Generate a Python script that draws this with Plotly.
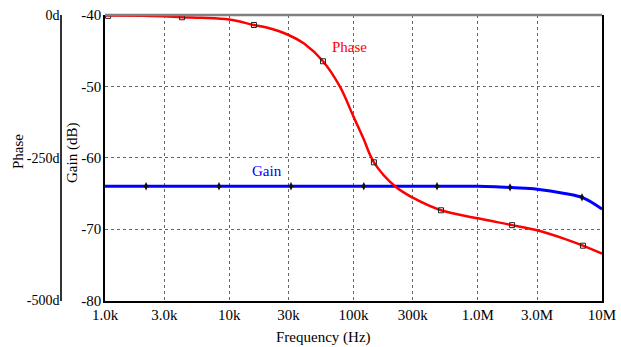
import plotly.graph_objects as go

# ---- data ----
freq_gain = [1e3, 3e3, 1e4, 3e4, 1e5, 3e5, 1e6, 1.5e6, 2e6, 3e6, 5e6, 7e6, 1e7]
gain_db = [-64.0, -64.0, -64.0, -64.0, -64.0, -64.0, -64.0, -64.1, -64.2, -64.4, -65.0, -65.6, -67.2]

freq_phase = [1e3, 2e3, 3e3, 4.17e3, 6e3, 1e4, 1.58e4, 2e4, 3e4, 4e4, 5.68e4, 7.8e4, 1e5,
              1.2e5, 1.46e5, 2.16e5, 3e5, 5.06e5, 1e6, 1.89e6, 3e6, 5e6, 7.03e6, 1e7]
phase_deg = [-1, -1.5, -2, -4, -5, -8, -17.5, -22, -35, -50, -81, -126, -178,
             -216, -258, -300, -320, -342, -356, -368, -377, -392, -404, -418]

gain_mk_f = [2.14e3, 8.27e3, 3.14e4, 1.21e5, 4.7e5, 1.82e6, 6.9e6]
gain_mk_v = [-64.0, -64.0, -64.0, -64.0, -64.0, -64.15, -65.55]

phase_mk_f = [1.06e3, 4.17e3, 1.58e4, 5.68e4, 1.46e5, 5.06e5, 1.89e6, 7.03e6]
phase_mk_v = [-1.5, -4, -17.5, -81, -258, -342, -368, -404]

x_ticks = [1e3, 3e3, 1e4, 3e4, 1e5, 3e5, 1e6, 3e6, 1e7]
x_labels = ["1.0k", "3.0k", "10k", "30k", "100k", "300k", "1.0M", "3.0M", "10M"]
gain_ticks = [-40, -50, -60, -70, -80]
gain_labels = ["-40", "-50", "-60", "-70", "-80"]
phase_ticks = [0, -250, -500]
phase_labels = ["0d", "-250d", "-500d"]

# ---- figure ----
W, H = 621, 347
FONT = "Liberation Serif"
x0, x1 = 105 / W, 602 / W
y0, y1 = 1 - 300.5 / H, 1 - 15 / H

fig = go.Figure()
fig.add_trace(go.Scatter(x=freq_gain, y=gain_db, mode="lines",
                         line=dict(color="#0000ff", width=3, shape="spline"),
                         yaxis="y", showlegend=False))
fig.add_trace(go.Scatter(x=freq_phase, y=phase_deg, mode="lines",
                         line=dict(color="#ff0000", width=2.5, shape="spline"),
                         yaxis="y2", showlegend=False))
fig.add_trace(go.Scatter(x=gain_mk_f, y=gain_mk_v, mode="markers",
                         marker=dict(symbol="diamond-tall", size=6, color="#111"),
                         yaxis="y", showlegend=False))
fig.add_trace(go.Scatter(x=phase_mk_f, y=phase_mk_v, mode="markers",
                         marker=dict(symbol="square-open", size=5, color="#222",
                                     line=dict(width=1, color="#222")),
                         yaxis="y2", showlegend=False))


def ann(text, px, py, color="black", angle=0):
    return dict(text=text, x=px / W, y=1 - py / H, xref="paper", yref="paper",
                xanchor="center", yanchor="middle", showarrow=False,
                textangle=angle, font=dict(color=color, size=15, family=FONT))


fig.update_layout(
    width=W, height=H,
    margin=dict(l=0, r=0, t=0, b=0),
    paper_bgcolor="white", plot_bgcolor="white",
    font=dict(family=FONT, size=15, color="black"),
    xaxis=dict(type="log", domain=[x0, x1], range=[3, 7],
               tickvals=x_ticks, ticktext=x_labels, ticks="",
               showgrid=True, gridcolor="#666", griddash="dot", gridwidth=1,
               showline=True, linecolor="black", linewidth=1.5,
               zeroline=False, automargin=False, anchor="y"),
    yaxis=dict(domain=[y0, y1], range=[-80, -40],
               tickvals=gain_ticks, ticktext=gain_labels, ticks="",
               ticklabelstandoff=-1,
               showgrid=True, gridcolor="#666", griddash="dot", gridwidth=1,
               showline=True, linecolor="black", linewidth=1.5, mirror=True,
               zeroline=False, automargin=False, anchor="x"),
    yaxis2=dict(overlaying="y", anchor="free", position=61 / W, side="left",
                range=[-500, 0], tickvals=phase_ticks, ticktext=phase_labels,
                tickfont=dict(size=14, family=FONT), ticklabelstandoff=-2,
                ticks="", showgrid=False, showline=True, linecolor="#333",
                linewidth=1.5, zeroline=False, automargin=False),
    shapes=[dict(type="line", xref="paper", yref="paper", x0=x0, x1=x1,
                 y0=y1, y1=y1, line=dict(color="#808080", width=2.5))],
    annotations=[
        ann("Phase", 349, 47, "#ff0000"),
        ann("Gain", 267, 171, "#0000ff"),
        ann("Frequency (Hz)", 323, 337),
        ann("Phase", 18, 152, angle=-90),
        ann("Gain (dB)", 72, 153, angle=-90),
    ],
)

fig.write_html("out.html")
